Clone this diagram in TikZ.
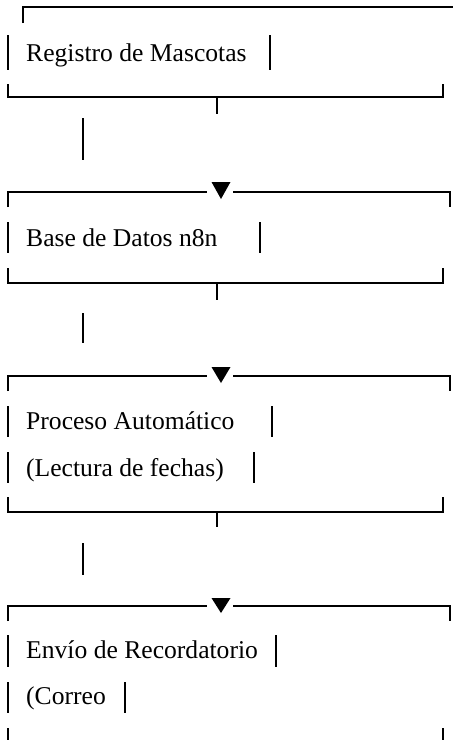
\documentclass[tikz,border=0pt]{standalone}
\usepackage{fontspec}
\setmainfont{Liberation Serif}
\begin{document}
\begin{tikzpicture}[x=1pt,y=-1pt,
  hline/.style={line width=1.7pt},
  vbar/.style={line width=2pt},
  lbl/.style={anchor=base west,inner sep=0pt,font=\fontsize{25.6}{30}\selectfont},
  tri/.style={fill=black}]
\useasboundingbox (0,0) rectangle (453,740);
% ---------- box 1
\draw[hline] (23,23) -- (23,7) -- (455,7);
\draw[vbar] (8,35) -- (8,70);
\node[lbl] (t1) at (26,61.7) {Registro de Mascotas};
\draw[vbar] (270,35) -- (270,70);
\draw[hline] (8,84) -- (8,97) -- (443,97) -- (443,84);
\draw[hline] (217,97) -- (217,114);
\draw[vbar] (83,118) -- (83,160);
% ---------- box 2
\coordinate (a2) at (221,199);
\draw[hline] (8,207) -- (8,191.7) -- (207,191.7);
\draw[hline] (233,191.7) -- (450,191.7) -- (450,207);
\fill[tri] (211.5,182) -- (230.5,182) -- (a2) -- cycle;
\draw[vbar] (8,222) -- (8,253);
\node[lbl] (t2) at (26,246.7) {Base de Datos n8n};
\draw[vbar] (260,222) -- (260,253);
\draw[hline] (8,268) -- (8,283.3) -- (443,283.3) -- (443,268);
\draw[hline] (217,283.3) -- (217,300);
\draw[vbar] (83,313) -- (83,343);
% ---------- box 3
\coordinate (a3) at (221,383);
\draw[hline] (8,391) -- (8,376) -- (207,376);
\draw[hline] (233,376) -- (450,376) -- (450,391);
\fill[tri] (211.5,367) -- (230.5,367) -- (a3) -- cycle;
\draw[vbar] (8,406) -- (8,437);
\node[lbl] (t3) at (26,429) {Proceso Automático};
\draw[vbar] (272,406) -- (272,437);
\draw[vbar] (8,452) -- (8,483);
\node[lbl] (t4) at (26,476) {(Lectura de fechas)};
\draw[vbar] (254,452) -- (254,483);
\draw[hline] (8,497) -- (8,512) -- (443,512) -- (443,497);
\draw[hline] (217,512) -- (217,527);
\draw[vbar] (83,543) -- (83,575);
% ---------- box 4
\coordinate (a4) at (221,613);
\draw[hline] (8,621) -- (8,606) -- (207,606);
\draw[hline] (233,606) -- (450,606) -- (450,621);
\fill[tri] (211.5,598) -- (230.5,598) -- (a4) -- cycle;
\draw[vbar] (8,635) -- (8,667);
\node[lbl] (t5) at (26,658) {Envío de Recordatorio};
\draw[vbar] (276,635) -- (276,667);
\draw[vbar] (8,682) -- (8,713);
\node[lbl] (t6) at (26,704) {(Correo};
\draw[vbar] (125,682) -- (125,713);
\draw[hline] (8,728) -- (8,742);
\draw[hline] (443,728) -- (443,742);
\end{tikzpicture}
\end{document}
